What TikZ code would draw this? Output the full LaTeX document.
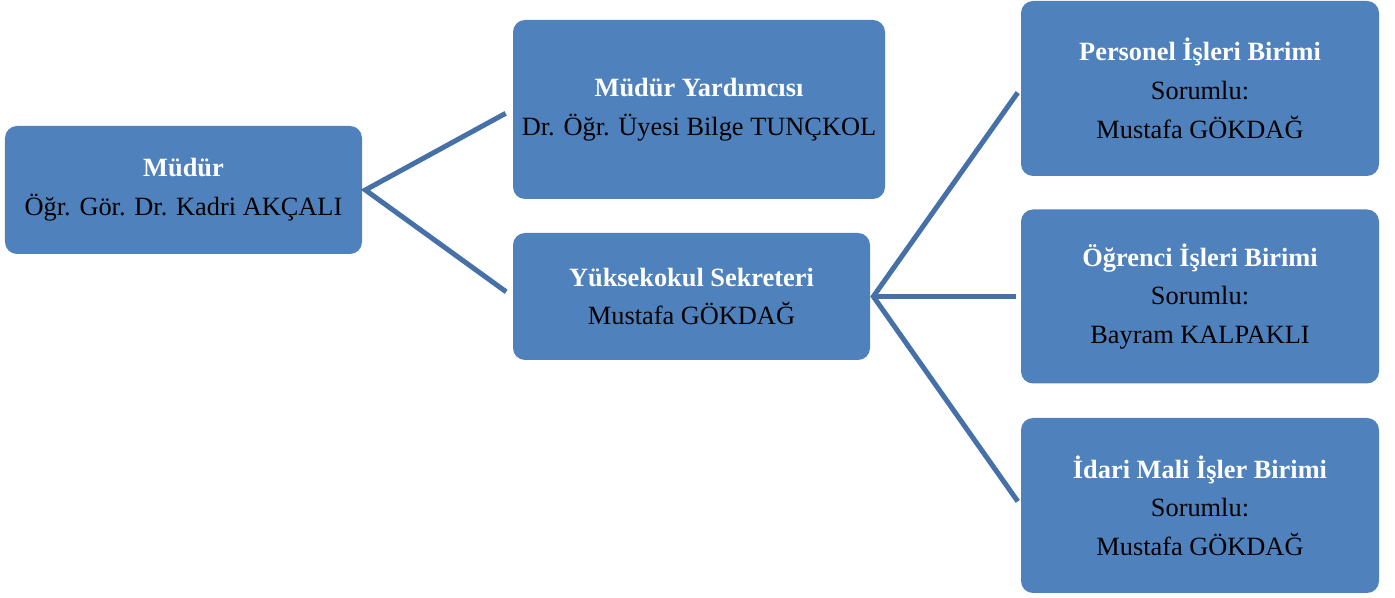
\documentclass[tikz,border=0pt]{standalone}
\usepackage{fontspec}
\setmainfont{Liberation Serif}
\begin{document}
\begin{tikzpicture}
  % Définir les couleurs du schéma
  \definecolor{boxcolor}{RGB}{79,129,189}
  \definecolor{linecolor}{RGB}{70,112,168}
  \tikzset{
    unit/.style={rectangle, rounded corners=0.24cm, fill=boxcolor, align=center, inner sep=0pt,
      font=\fontsize{15pt}{22pt}\selectfont},
    conn/.style={linecolor, line width=0.1cm, line join=miter}
  }
  \useasboundingbox (0,0) rectangle (27.9,-11.96);

  % Le directeur
  \node[unit, minimum width=7.14cm, minimum height=2.56cm] at (3.67,-3.80) (mudur)
    {\textcolor{white}{\textbf{Müdür}}\\Öğr. Gör. Dr. Kadri AKÇALI};

  % Adjoint et secrétaire
  \node[unit, minimum width=7.44cm, minimum height=3.58cm] at (13.98,-2.19) (yardimci)
    {\textcolor{white}{\textbf{Müdür Yardımcısı}}\\Dr. Öğr. Üyesi Bilge TUNÇKOL};
  \node[unit, minimum width=7.14cm, minimum height=2.54cm] at (13.83,-5.93) (sekreter)
    {\textcolor{white}{\textbf{Yüksekokul Sekreteri}}\\Mustafa GÖKDAĞ};

  % Les unités
  \node[unit, minimum width=7.16cm, minimum height=3.50cm] at (24.00,-1.77) (personel)
    {\textcolor{white}{\textbf{Personel İşleri Birimi}}\\Sorumlu:\\Mustafa GÖKDAĞ};
  \node[unit, minimum width=7.16cm, minimum height=3.48cm] at (24.00,-5.93) (ogrenci)
    {\textcolor{white}{\textbf{Öğrenci İşleri Birimi}}\\Sorumlu:\\Bayram KALPAKLI};
  \node[unit, minimum width=7.16cm, minimum height=3.50cm] at (24.00,-10.11) (idari)
    {\textcolor{white}{\textbf{İdari Mali İşler Birimi}}\\Sorumlu:\\Mustafa GÖKDAĞ};

  % Dessiner les lignes
  \draw[conn, shorten <=0.16cm, shorten >=0.16cm]
    (yardimci.west) -- ([xshift=0.06cm]mudur.east) -- (sekreter.west);
  \draw[conn, shorten <=0.1cm, shorten >=0.1cm]
    (personel.west) -- ([xshift=0.06cm]sekreter.east) -- (idari.west);
  \draw[conn, shorten >=0.1cm] ([xshift=0.06cm]sekreter.east) -- (ogrenci.west);
\end{tikzpicture}
\end{document}
